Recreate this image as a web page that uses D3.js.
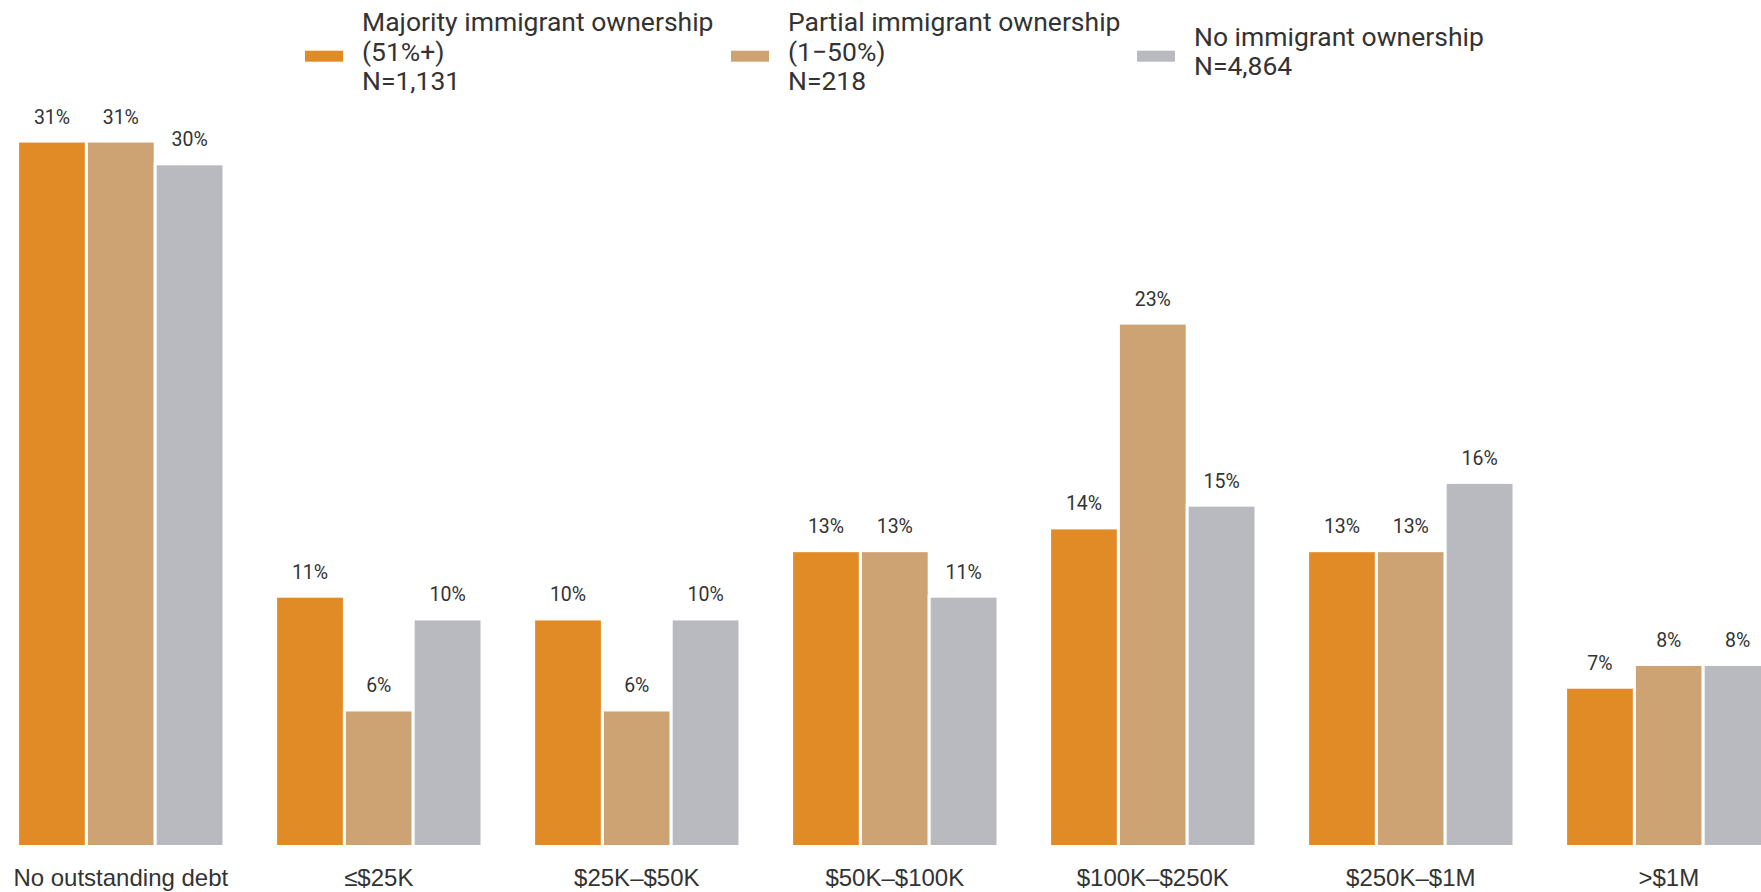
<!DOCTYPE html>
<html>
<head>
<meta charset="utf-8">
<script src="https://cdn.jsdelivr.net/npm/d3@7"></script>
<style>
  html, body { margin: 0; padding: 0; background: #fff; overflow: hidden; }
  svg { display: block; }
</style>
</head>
<body>
<svg id="chart" width="1761" height="892"></svg>
<script>
// ---- data ----
const categories = ["No outstanding debt", "≤$25K", "$25K–$50K", "$50K–$100K", "$100K–$250K", "$250K–$1M", ">$1M"];
const seriesNames = ["majority", "partial", "none"];
const seriesLabels = [
  ["Majority immigrant ownership", "(51%+)", "N=1,131"],
  ["Partial immigrant ownership", "(1\u221250%)", "N=218"],
  ["No immigrant ownership", "N=4,864"]
];
const majority = [31, 11, 10, 13, 14, 13, 7];
const partial  = [31, 6, 6, 13, 23, 13, 8];
const none     = [30, 10, 10, 11, 15, 16, 8];
const colors = ["#e18b26", "#cea373", "#b9bac0"];

// ---- layout ----
const W = 1761, H = 892;
const svg = d3.select("#chart");
const values = [majority, partial, none];

const x0 = d3.scaleBand().domain(categories).range([17.6, 1772]).paddingInner(0.2).paddingOuter(0);
const x1 = d3.scaleBand().domain(seriesNames).range([0, x0.bandwidth()]).padding(0);
const y = d3.scaleLinear().domain([0, 31]).range([846.5, 846.5 - 31 * 22.756]);

const rows = categories.map((c, i) => ({cat: c, vals: seriesNames.map((s, j) => ({s, j, v: values[j][i]}))}));

const g = svg.append("g");
const groups = g.selectAll("g.grp").data(rows).join("g")
  .attr("class", "grp")
  .attr("transform", d => `translate(${x0(d.cat)},0)`);

groups.selectAll("rect").data(d => d.vals).join("rect")
  .attr("x", d => x1(d.s))
  .attr("width", x1.bandwidth())
  .attr("y", d => y(d.v))
  .attr("height", d => y(0) - y(d.v))
  .attr("fill", d => colors[d.j])
  .attr("stroke", "#fff")
  .attr("stroke-width", 3);

groups.selectAll("text.val").data(d => d.vals).join("text")
  .attr("class", "val")
  .attr("x", d => x1(d.s) + x1.bandwidth() / 2)
  .attr("y", d => y(d.v) - 17.5)
  .attr("text-anchor", "middle")
  .attr("font-family", "Roboto, sans-serif")
  .attr("font-size", 19.5)
  .attr("fill", "#333")
  .text(d => d3.format(".0f")(d.v) + "%");

// x axis labels
const xAxis = d3.axisBottom(x0).tickSize(0).tickPadding(0);
const ax = svg.append("g").attr("transform", "translate(0,868)").call(xAxis);
ax.select(".domain").remove();
ax.selectAll("text")
  .attr("font-family", "'Liberation Sans', Arial, sans-serif")
  .attr("font-size", 24)
  .attr("fill", "#333")
  .attr("dy", "0.75em");

// legend
const legendX = [305, 731, 1137];
const lineH = 29.5;
const legend = svg.append("g");
seriesLabels.forEach((lines, i) => {
  const lg = legend.append("g").attr("transform", `translate(${legendX[i]},0)`);
  lg.append("rect").attr("x", 0).attr("y", 50.7).attr("width", 38).attr("height", 11).attr("fill", colors[i]);
  const n = lines.length;
  const midBase = 60.5;
  lg.selectAll("text").data(lines).join("text")
    .attr("x", 57)
    .attr("y", (d, k) => midBase + (k - (n - 1) / 2) * lineH)
    .attr("font-family", "Roboto, sans-serif")
    .attr("font-size", 26.5)
    .attr("fill", "#333")
    .text(d => d);
});
</script>
</body>
</html>
